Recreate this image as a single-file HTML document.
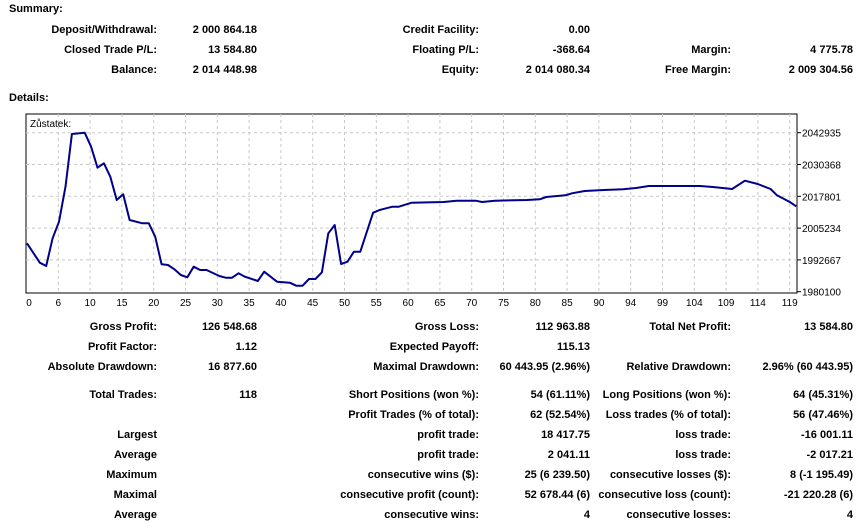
<!DOCTYPE html>
<html><head><meta charset="utf-8"><style>
body{margin:0;width:860px;height:529px;background:#fff;position:relative;overflow:hidden;font-family:"Liberation Sans",sans-serif;}
.t{position:absolute;font-weight:bold;font-size:11px;color:#000;white-space:nowrap;line-height:13px;}
.r{transform:translateX(-100%);}
</style></head><body>
<div id="txt"></div>
<svg id="chart" width="860" height="529" style="position:absolute;left:0;top:0"></svg>
<script>
const rows=[
['summary-title','Summary:',9,3,false],
['deposit-label','Deposit/Withdrawal:',157,24,true],['deposit-value','2 000 864.18',257,24,true],
['credit-label','Credit Facility:',479,24,true],['credit-value','0.00',590,24,true],
['closed-pl-label','Closed Trade P/L:',157,44,true],['closed-pl-value','13 584.80',257,44,true],
['floating-label','Floating P/L:',479,44,true],['floating-value','-368.64',590,44,true],
['margin-label','Margin:',731,44,true],['margin-value','4 775.78',853,44,true],
['balance-label','Balance:',157,64,true],['balance-value','2 014 448.98',257,64,true],
['equity-label','Equity:',479,64,true],['equity-value','2 014 080.34',590,64,true],
['free-margin-label','Free Margin:',731,64,true],['free-margin-value','2 009 304.56',853,64,true],
['details-title','Details:',9,92,false],
['gross-profit-label','Gross Profit:',157,321,true],['gross-profit-value','126 548.68',257,321,true],
['gross-loss-label','Gross Loss:',479,321,true],['gross-loss-value','112 963.88',590,321,true],
['net-profit-label','Total Net Profit:',731,321,true],['net-profit-value','13 584.80',853,321,true],
['profit-factor-label','Profit Factor:',157,341,true],['profit-factor-value','1.12',257,341,true],
['expected-payoff-label','Expected Payoff:',479,341,true],['expected-payoff-value','115.13',590,341,true],
['abs-dd-label','Absolute Drawdown:',157,361,true],['abs-dd-value','16 877.60',257,361,true],
['max-dd-label','Maximal Drawdown:',479,361,true],['max-dd-value','60 443.95 (2.96%)',590,361,true],
['rel-dd-label','Relative Drawdown:',731,361,true],['rel-dd-value','2.96% (60 443.95)',853,361,true],
['total-trades-label','Total Trades:',157,389,true],['total-trades-value','118',257,389,true],
['short-label','Short Positions (won %):',479,389,true],['short-value','54 (61.11%)',590,389,true],
['long-label','Long Positions (won %):',731,389,true],['long-value','64 (45.31%)',853,389,true],
['profit-trades-label','Profit Trades (% of total):',479,409,true],['profit-trades-value','62 (52.54%)',590,409,true],
['loss-trades-label','Loss trades (% of total):',731,409,true],['loss-trades-value','56 (47.46%)',853,409,true],
['largest-label','Largest',157,429,true],['largest-profit-label','profit trade:',479,429,true],['largest-profit-value','18 417.75',590,429,true],
['largest-loss-label','loss trade:',731,429,true],['largest-loss-value','-16 001.11',853,429,true],
['average-label','Average',157,449,true],['avg-profit-label','profit trade:',479,449,true],['avg-profit-value','2 041.11',590,449,true],
['avg-loss-label','loss trade:',731,449,true],['avg-loss-value','-2 017.21',853,449,true],
['maximum-label','Maximum',157,469,true],['max-wins-label','consecutive wins ($):',479,469,true],['max-wins-value','25 (6 239.50)',590,469,true],
['max-losses-label','consecutive losses ($):',731,469,true],['max-losses-value','8 (-1 195.49)',853,469,true],
['maximal-label','Maximal',157,489,true],['maximal-profit-label','consecutive profit (count):',479,489,true],['maximal-profit-value','52 678.44 (6)',590,489,true],
['maximal-loss-label','consecutive loss (count):',731,489,true],['maximal-loss-value','-21 220.28 (6)',853,489,true],
['average2-label','Average',157,509,true],['avg-wins-label','consecutive wins:',479,509,true],['avg-wins-value','4',590,509,true],
['avg-losses-label','consecutive losses:',731,509,true],['avg-losses-value','4',853,509,true]
];
const txt=document.getElementById('txt');
for(const [n,s,x,y,r] of rows){const d=document.createElement('div');d.className='t'+(r?' r':'');d.style.left=x+'px';d.style.top=y+'px';d.textContent=s;


txt.appendChild(d);}
</script>
<script>
const tradeIdx=[0,2,3,4,5,6,7,9,10,11,12,13,14,15,16,18,19,20,21,22,23,24,25,26,27,28,30,31,32,33,34,36,37,39,41,42,43,44,45,46,47,48,49,50,51,52,54,55,57,58,60,65,67,70,71,73,78,80,81,84,85,87,90,93,95,97,105,107,110,112,114,116,117,119,120];
const balance=[1999230,1991560,1990260,2001200,2007760,2021600,2042420,2042940,2037400,2029100,2030840,2025550,2016340,2018590,2008440,2007130,2007130,2001840,1990930,1990650,1988950,1986700,1985790,1989980,1988680,1988680,1986300,1985630,1985630,1987370,1986030,1984330,1988000,1984050,1983660,1982470,1982470,1985120,1985120,1987770,2003180,2006460,1991050,1991960,1995910,1995910,2011320,2012390,2013690,2013690,2015270,2015550,2016060,2016060,2015550,2016060,2016340,2016620,2017530,2018200,2018990,2019900,2020290,2020570,2021080,2021870,2021870,2021480,2020690,2023970,2022660,2020690,2018200,2015550,2013850];
const yTicks=[1980100,1992667,2005234,2017801,2030368,2042935];
const xTickLabels=['0','6','10','15','20','25','30','35','40','45','50','55','60','65','70','75','80','85','90','94','99','104','109','114','119'];
const NS='http://www.w3.org/2000/svg';
const svg=document.getElementById('chart');
const L=26,R=797,T=114,B=293;
const FF='Liberation Sans,sans-serif';
const xs=i=>27+i*6.41;
const ys=v=>291.7-(v-1980100)/12567*31.8;
function el(t,a){const e=document.createElementNS(NS,t);for(const k in a)e.setAttribute(k,a[k]);svg.appendChild(e);return e;}
const bg=el('rect',{x:L,y:T,width:R-L,height:B-T,fill:'#fff',stroke:'#000','stroke-width':1});


for(let k=1;k<xTickLabels.length;k++){const x=26.5+k*31.8;if(x<R){const g=el('line',{x1:x,x2:x,y1:T,y2:B,stroke:'#c8c8c8','stroke-dasharray':'3,3'});

}}
xTickLabels.forEach((s,k)=>{const x=k==0?29:26.5+k*31.8;const t=el('text',{x:x,y:306,'font-size':10,'font-family':FF,'text-anchor':'middle',fill:'#000'});t.textContent=s;

});
yTicks.forEach(v=>{const y=ys(v);if(v>yTicks[0]){const g=el('line',{x1:L,x2:R,y1:y,y2:y,stroke:'#c8c8c8','stroke-dasharray':'3,3'});

}
el('line',{x1:R,x2:R+4,y1:y,y2:y,stroke:'#000'});
const t=el('text',{x:802,y:y+4,'font-size':10,'font-family':FF,fill:'#000'});t.textContent=v;

});
const lbl=el('text',{x:30,y:127,'font-size':10,'font-family':FF,fill:'#000'});lbl.textContent='Zůstatek:';


const pts=tradeIdx.map((i,k)=>xs(i).toFixed(1)+','+ys(balance[k]).toFixed(1)).join(' ');
const pl=el('polyline',{points:pts,fill:'none',stroke:'#00008b','stroke-width':2,'stroke-linejoin':'round'});


</script>
</body></html>
